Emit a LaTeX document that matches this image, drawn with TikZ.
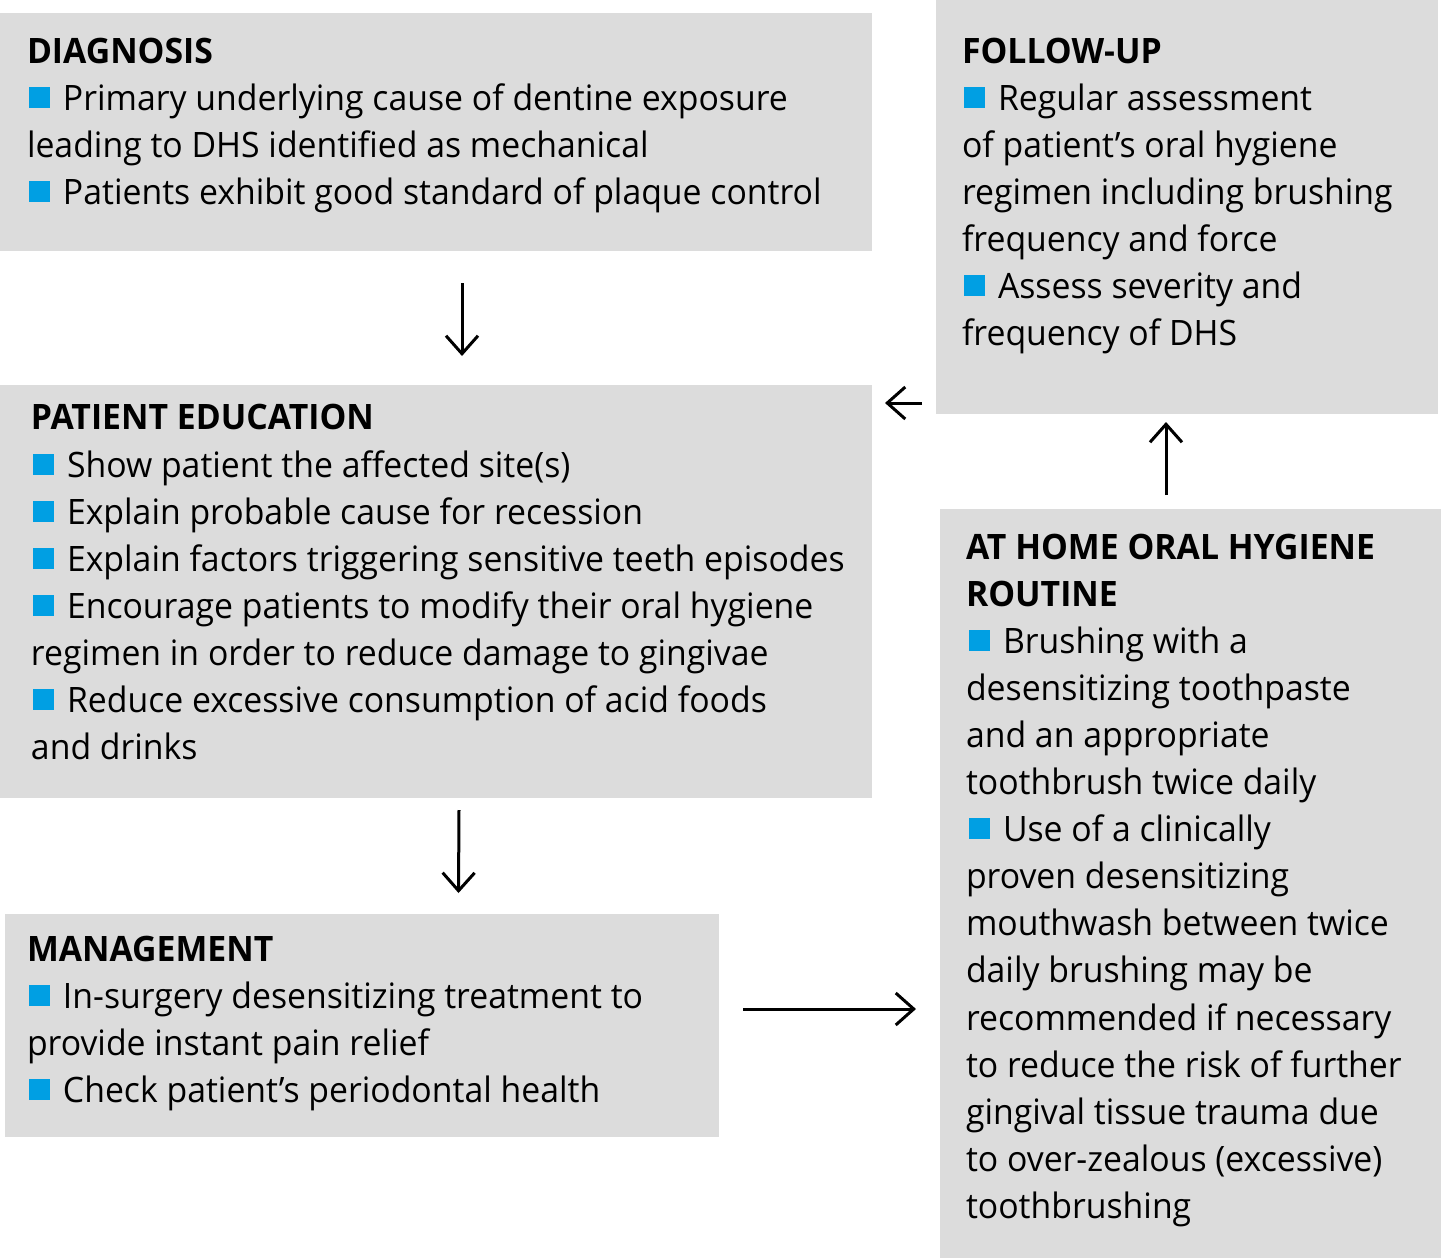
\documentclass[tikz,border=0pt]{standalone}
\usepackage{fontspec}
\setmainfont{Open Sans}[FakeStretch=0.965]
\usetikzlibrary{arrows.meta}
\definecolor{boxgray}{HTML}{DCDCDC}
\definecolor{bblue}{HTML}{009FE3}
\newcommand\bul{\textcolor{bblue}{\rule[1pt]{10.5pt}{10.5pt}}\hspace{6.5pt}}
\newcommand\fs{\fontsize{17.5pt}{23.5pt}\selectfont}
\tikzset{
  box/.style={fill=boxgray, draw=none, inner sep=0pt, outer sep=0pt, anchor=north west},
  txt/.style={anchor=base west, inner sep=0pt, outer sep=0pt, font=\fs},
  hd/.style={txt, font=\fs\bfseries},
  arr/.style={-{Straight Barb[length=9pt,width=16pt]}, line width=1.5pt}
}
\begin{document}
\begin{tikzpicture}[x=0.5pt,y=-0.5pt]
\useasboundingbox (0,0) rectangle (1441,1258);
% boxes
\node[box, minimum width=436pt, minimum height=119pt] (diag) at (0,13) {};
\node[box, minimum width=251pt, minimum height=207pt] (follow) at (936,0) {};
\node[box, minimum width=436pt, minimum height=206.5pt] (edu) at (0,385) {};
\node[box, minimum width=357pt, minimum height=111.5pt] (mgmt) at (5,914) {};
\node[box, minimum width=250.5pt, minimum height=374.5pt] (home) at (940,509) {};
% diagnosis
\node[hd] (dh) at (27,63) {DIAGNOSIS};
\node[txt] (d1) at (29,110) {\bul Primary underlying cause of dentine exposure};
\node[txt] (d2) at (27,157) {leading to DHS identified as mechanical};
\node[txt] (d3) at (29,204) {\bul Patients exhibit good standard of plaque control};
% follow-up
\node[hd] (fh) at (962,63) {FOLLOW-UP};
\node[txt] (f1) at (964,110) {\bul Regular assessment};
\node[txt] (f2) at (962,157) {of patient’s oral hygiene};
\node[txt] (f3) at (962,204) {regimen including brushing};
\node[txt] (f4) at (962,251) {frequency and force};
\node[txt] (f5) at (964,298) {\bul Assess severity and};
\node[txt] (f6) at (962,345) {frequency of DHS};
% patient education
\node[hd] (eh) at (31,429) {PATIENT EDUCATION};
\node[txt] (e1) at (33,477) {\bul Show patient the affected site(s)};
\node[txt] (e2) at (33,524) {\bul Explain probable cause for recession};
\node[txt] (e3) at (33,571) {\bul Explain factors triggering sensitive teeth episodes};
\node[txt] (e4) at (33,618) {\bul Encourage patients to modify their oral hygiene};
\node[txt] (e5) at (31,665) {regimen in order to reduce damage to gingivae};
\node[txt] (e6) at (33,712) {\bul Reduce excessive consumption of acid foods};
\node[txt] (e7) at (31,759) {and drinks};
% management
\node[hd] (mh) at (27,961) {MANAGEMENT};
\node[txt] (m1) at (29,1008) {\bul In-surgery desensitizing treatment to};
\node[txt] (m2) at (27,1055) {provide instant pain relief};
\node[txt] (m3) at (29,1102) {\bul Check patient’s periodontal health};
% at home
\node[hd] (hh1) at (966,559) {AT HOME ORAL HYGIENE};
\node[hd] (hh2) at (966,606) {ROUTINE};
\node[txt] (h1) at (969,653) {\bul Brushing with a};
\node[txt] (h2) at (966,700) {desensitizing toothpaste};
\node[txt] (h3) at (966,747) {and an appropriate};
\node[txt] (h4) at (966,794) {toothbrush twice daily};
\node[txt] (h5) at (969,841) {\bul Use of a clinically};
\node[txt] (h6) at (966,888) {proven desensitizing};
\node[txt] (h7) at (966,935) {mouthwash between twice};
\node[txt] (h8) at (966,982) {daily brushing may be};
\node[txt] (h9) at (966,1030) {recommended if necessary};
\node[txt] (h10) at (966,1077) {to reduce the risk of further};
\node[txt] (h11) at (966,1124) {gingival tissue trauma due};
\node[txt] (h12) at (966,1171) {to over-zealous (excessive)};
\node[txt] (h13) at (966,1218) {toothbrushing};
% arrows
\draw[arr] ([xshift=13pt,yshift=-16pt]diag.south) -- ([xshift=13pt,yshift=14.5pt]edu.north);
\draw[arr] ([xshift=-7pt,yshift=5.5pt]follow.south west) -- ([xshift=6.5pt,yshift=-9pt]edu.north east);
\draw[arr] ([xshift=-12.25pt,yshift=7pt]home.north) -- ([xshift=-10.5pt,yshift=-4pt]follow.south);
\draw[arr] ([xshift=11.5pt,yshift=-6pt]edu.south) -- ([xshift=48.25pt,yshift=10.5pt]mgmt.north);
\draw[arr] ([xshift=12pt,yshift=8.25pt]mgmt.east) -- ([xshift=-12pt,yshift=8.25pt]mgmt.east -| home.west);
\end{tikzpicture}
\end{document}
